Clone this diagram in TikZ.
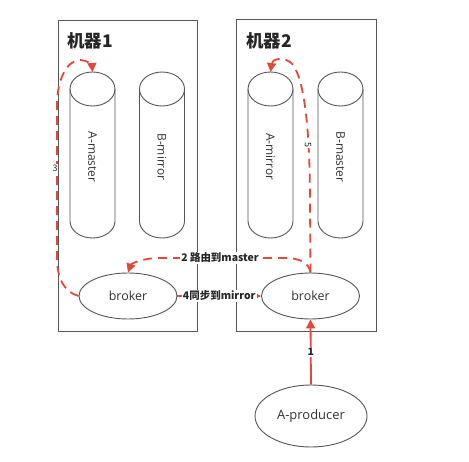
\documentclass[tikz,border=0pt]{standalone}
\usepackage{fontspec}
\setmainfont{Open Sans}
\newfontfamily\cjk{Noto Sans CJK SC}
\usetikzlibrary{arrows.meta,shapes.geometric}
\definecolor{rd}{HTML}{E04A3C}
\definecolor{ln}{HTML}{555555}
\tikzset{
  box/.style={draw=ln, line width=0.9bp},
  cylline/.style={draw=ln, line width=0.9bp},
  cyltext/.style={rotate=-90, font=\fontsize{12}{14}\selectfont, text=black!80, inner sep=0pt},
  oval/.style={draw=ln, line width=0.9bp, ellipse, inner sep=0pt, text=black!80},
  title/.style={font=\cjk\bfseries\fontsize{17.5}{19}\selectfont, anchor=west, inner sep=0pt, text=black!85},
  rdash/.style={draw=rd, line width=1.8bp, dash pattern=on 9bp off 6bp},
  rsolid/.style={draw=rd, line width=1.8bp},
  bigtip/.style={-{Triangle[length=9bp,width=9bp]}},
  smalltip/.style={-{Triangle[length=5bp,width=5bp]}},
  lbl/.style={font=\cjk\bfseries\fontsize{10.5}{12}\selectfont, fill=white, inner sep=1pt, text=black!85},
  numlbl/.style={font=\cjk\fontsize{9}{10}\selectfont, fill=white, inner sep=0.5pt, text=black!85},
}
\newcommand\mycyl[3]{%
  \draw[cylline] (#2-22.5,89) -- (#2-22.5,221) arc[start angle=180,end angle=360,x radius=22.5bp,y radius=17bp] -- (#2+22.5,89);
  \draw[cylline] (#2,89) ellipse[x radius=22.5bp,y radius=17bp];
  \node[cyltext] (#1) at (#2,157) {#3};
  \coordinate (#1top) at (#2,72);
}
\begin{document}
\begin{tikzpicture}[x=1bp,y=-1bp]
\useasboundingbox[fill=white] (0,0) rectangle (469,462);
% machine boxes
\draw[box] (58,20) rectangle (197,331);
\draw[box] (236,19) rectangle (376,331);
\node[title] (t1) at (67,41) {机器1};
\node[title] (t2) at (246,41) {机器2};
% cylinders
\mycyl{am}{92.5}{A-master}
\mycyl{bm}{162}{B-mirror}
\mycyl{ai}{270.5}{A-mirror}
\mycyl{bs}{340.5}{B-master}
% ovals
\node[oval, minimum width=98bp, minimum height=46bp, font=\fontsize{12.5}{14}\selectfont] (b1) at (128,296) {broker};
\node[oval, minimum width=98bp, minimum height=46bp, font=\fontsize{12.5}{14}\selectfont] (b2) at (310.5,296) {broker};
\node[oval, minimum width=112bp, minimum height=62bp, font=\fontsize{13}{15}\selectfont] (p) at (311,416) {A-producer};
% arrow 1
\draw[rsolid,bigtip] (p.north) -- node[lbl] (l1) {1} (b2.south);
% arrow 2
\draw[rdash,bigtip] (b2.north) .. controls (309,263) and (300,258) .. (285,258) -- (160,258) .. controls (142,258) and (131,264) .. (b1.north);
\node[lbl] (l2) at (220,258) {2 路由到master};
% arrow 3
\draw[rdash,bigtip] (b1.west) .. controls (64,292) and (57,278) .. (57,258) -- (57,105) .. controls (57,78) and (68,60) .. (80,60) .. controls (87,60) and (92,65) .. (amtop);
\node[numlbl] (l3) at (55,168) {3};
% arrow 4
\draw[rdash,smalltip] (b1.east) -- node[lbl] (l4) {4同步到mirror} (b2.west);
% arrow 5
\draw[rdash,bigtip] (b2.north) -- (310,205) .. controls (310,120) and (303,72) .. (290,62) .. controls (281,56) and (272,60) .. (aitop);
\node[numlbl, rotate=-90] (l5) at (308,145) {5};
\end{tikzpicture}
\end{document}
